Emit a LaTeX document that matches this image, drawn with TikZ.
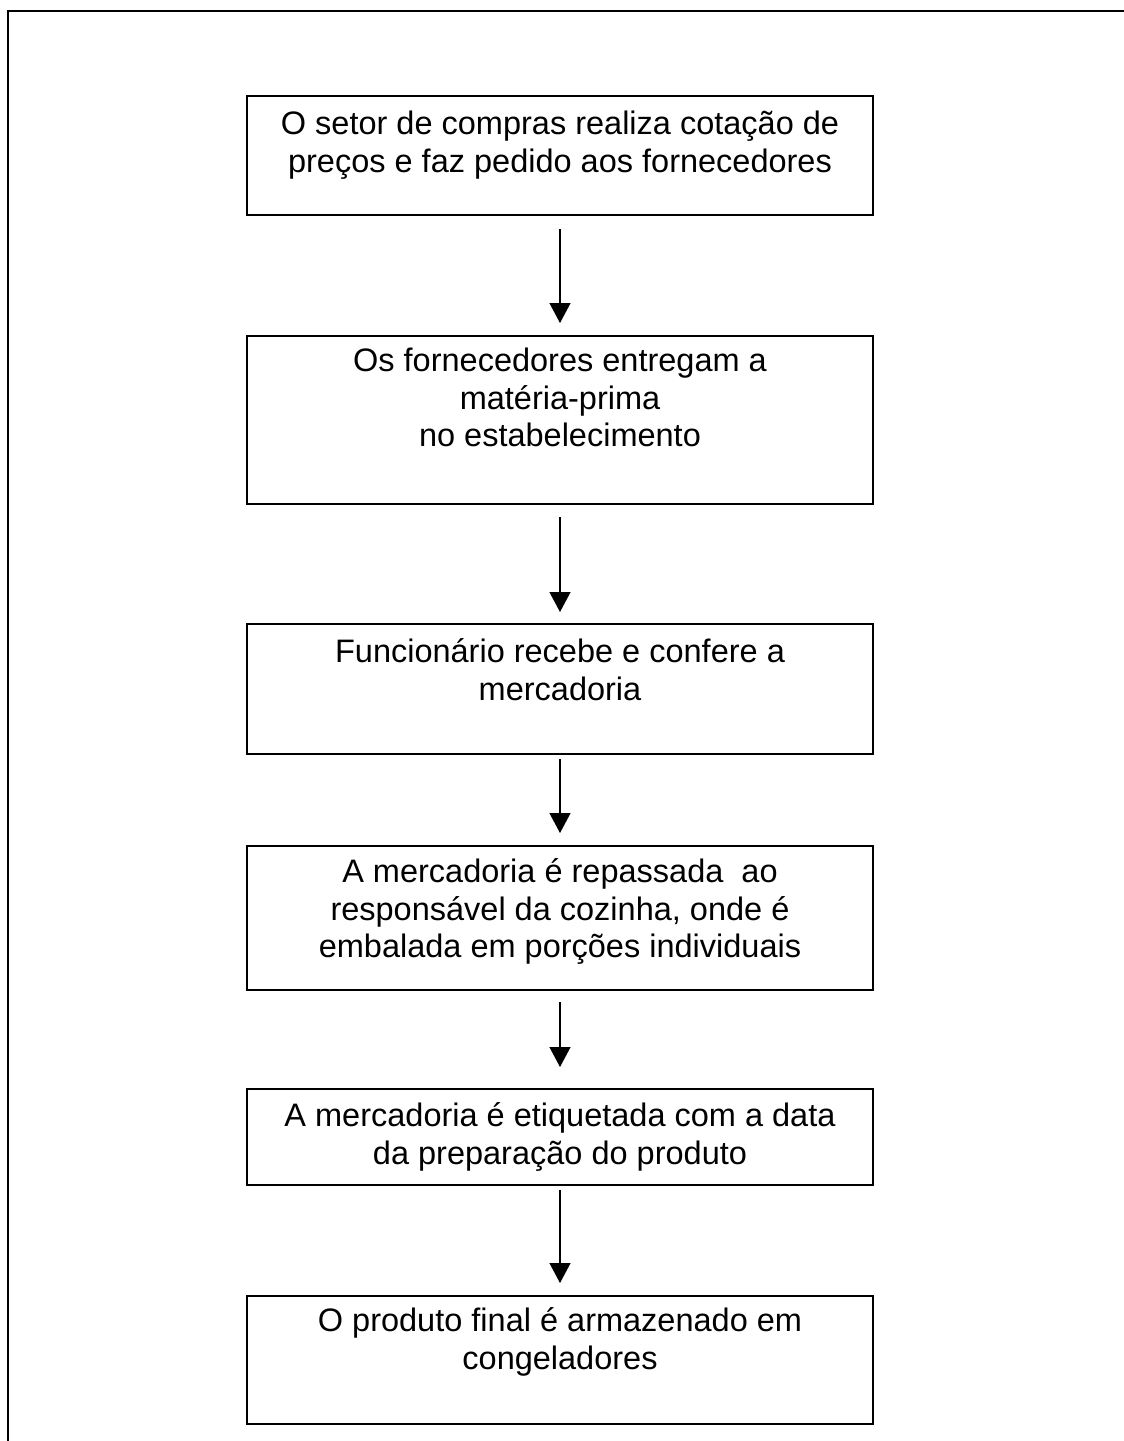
\documentclass[tikz,border=0pt]{standalone}
\usepackage{fontspec}
\setmainfont{Liberation Sans}
\usetikzlibrary{arrows.meta}
\tikzset{
  stepbox/.style={draw, line width=1.8pt, inner sep=0pt, fill=white, anchor=north},
  flow/.style={line width=1.3pt, -{Triangle[length=20pt,width=21pt]}},
  frameline/.style={line width=2.2pt},
}
\newcommand{\bxt}[3]{\parbox[c][#1pt][t]{626pt}{\centering\fontsize{32.5}{37.5}\selectfont\rule{0pt}{#2pt}#3\par}}
\begin{document}
\begin{tikzpicture}[x=1pt,y=1pt]
\useasboundingbox (0,0) rectangle (1124,-1441);
\coordinate (fbl) at (8,-1441);
\coordinate (ftl) at (8,-11);
\coordinate (ftr) at (1124,-11);
\draw[frameline] (fbl) -- (ftl) -- (ftr);

\node[stepbox] (b1) at (560,-95) {\bxt{119}{39}{O setor de compras realiza cotação de\\preços e faz pedido aos fornecedores}};
\node[stepbox] (b2) at (560,-335) {\bxt{168}{36}{Os fornecedores entregam a\\matéria-prima\\no estabelecimento}};
\node[stepbox] (b3) at (560,-623) {\bxt{130}{39}{Funcionário recebe e confere a\\mercadoria}};
\node[stepbox] (b4) at (560,-845) {\bxt{144}{37}{A mercadoria é repassada\ \ ao\\responsável da cozinha, onde é\\embalada em porções individuais}};
\node[stepbox] (b5) at (560,-1088) {\bxt{96}{38}{A mercadoria é etiquetada com a data\\da preparação do produto}};
\node[stepbox] (b6) at (560,-1295) {\bxt{128}{36}{O produto final é armazenado em\\congeladores}};

\draw[flow, shorten <=13pt, shorten >=12pt] (b1) -- (b2);
\draw[flow, shorten <=12pt, shorten >=11pt] (b2) -- (b3);
\draw[flow, shorten <=4pt, shorten >=12pt] (b3) -- (b4);
\draw[flow, shorten <=11pt, shorten >=21pt] (b4) -- (b5);
\draw[flow, shorten <=4pt, shorten >=12pt] (b5) -- (b6);
\end{tikzpicture}
\end{document}
